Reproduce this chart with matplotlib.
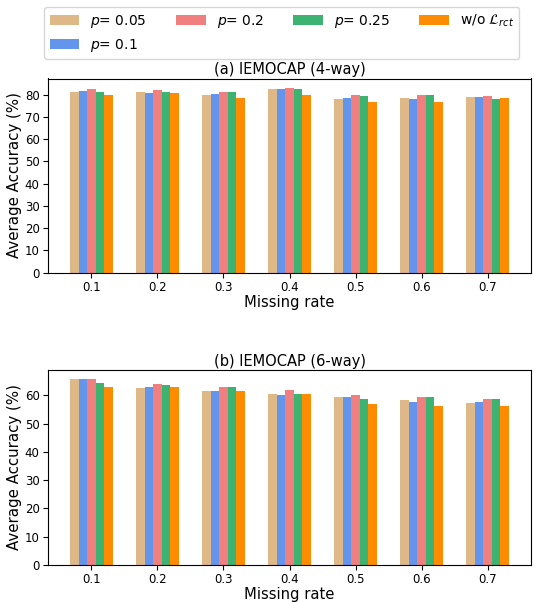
import matplotlib
matplotlib.use("Agg")
import matplotlib.pyplot as plt
from matplotlib.ticker import MultipleLocator
import numpy as np

rates = ["0.1", "0.2", "0.3", "0.4", "0.5", "0.6", "0.7"]
labels = ["$p$= 0.05", "$p$= 0.1", "$p$= 0.2", "$p$= 0.25", r"w/o $\mathcal{L}_{rct}$"]
colors = ["burlywood", "cornflowerblue", "lightcoral", "mediumseagreen", "darkorange"]

acc4_p005 = [81.3, 81.3, 80.0, 82.7, 78.2, 78.7, 79.1]
acc4_p01 = [81.8, 80.9, 80.4, 82.7, 78.7, 78.2, 79.1]
acc4_p02 = [82.7, 82.2, 81.3, 83.1, 80.0, 80.0, 79.6]
acc4_p025 = [81.3, 81.3, 81.3, 82.7, 79.6, 80.0, 78.2]
acc4_wo = [80.0, 80.9, 78.7, 80.0, 76.9, 76.9, 78.7]

acc6_p005 = [65.7, 62.5, 61.4, 60.4, 59.3, 58.2, 57.2]
acc6_p01 = [65.7, 62.8, 61.4, 60.0, 59.3, 57.5, 57.5]
acc6_p02 = [65.7, 63.9, 62.8, 61.8, 60.0, 59.3, 58.9]
acc6_p025 = [64.3, 63.6, 62.8, 60.4, 58.9, 59.3, 58.6]
acc6_wo = [62.8, 62.8, 61.4, 60.4, 56.8, 56.4, 56.1]

series4 = [acc4_p005, acc4_p01, acc4_p02, acc4_p025, acc4_wo]
series6 = [acc6_p005, acc6_p01, acc6_p02, acc6_p025, acc6_wo]
titles = ["(a) IEMOCAP (4-way)", "(b) IEMOCAP (6-way)"]

fig = plt.figure(figsize=(5.34, 6.02), dpi=100)
ax1 = fig.add_axes([48/534, 1-272.5/602, 483/534, 194/602])
ax2 = fig.add_axes([48/534, 1-565/602, 483/534, 195/602])

x = np.arange(len(rates))
w = 0.13
handles = None
for ax, series, title in zip([ax1, ax2], [series4, series6], titles):
    hs = []
    for i, (vals, c, lab) in enumerate(zip(series, colors, labels)):
        h = ax.bar(x + (i - 2) * w, vals, width=w, color=c, label=lab)
        hs.append(h)
    handles = hs
    ax.set_xticks(x)
    ax.set_xticklabels(rates)
    ax.yaxis.set_major_locator(MultipleLocator(10))
    ax.tick_params(axis="both", labelsize=8.5, pad=2.5)
    ax.set_ylabel("Average Accuracy (%)", fontsize=10.8, labelpad=2)
    ax.set_xlabel("Missing rate", fontsize=10.6, labelpad=0.5)
    ax.set_title(title, fontsize=10.5, pad=3)

fig.legend(handles, labels, loc="upper left", bbox_to_anchor=(44/534, 1-7/602),
           borderaxespad=0, ncol=4, fontsize=10, frameon=True,
           columnspacing=2.16, handlelength=2.1, handletextpad=0.8)

fig.savefig("out.png", dpi=100)
